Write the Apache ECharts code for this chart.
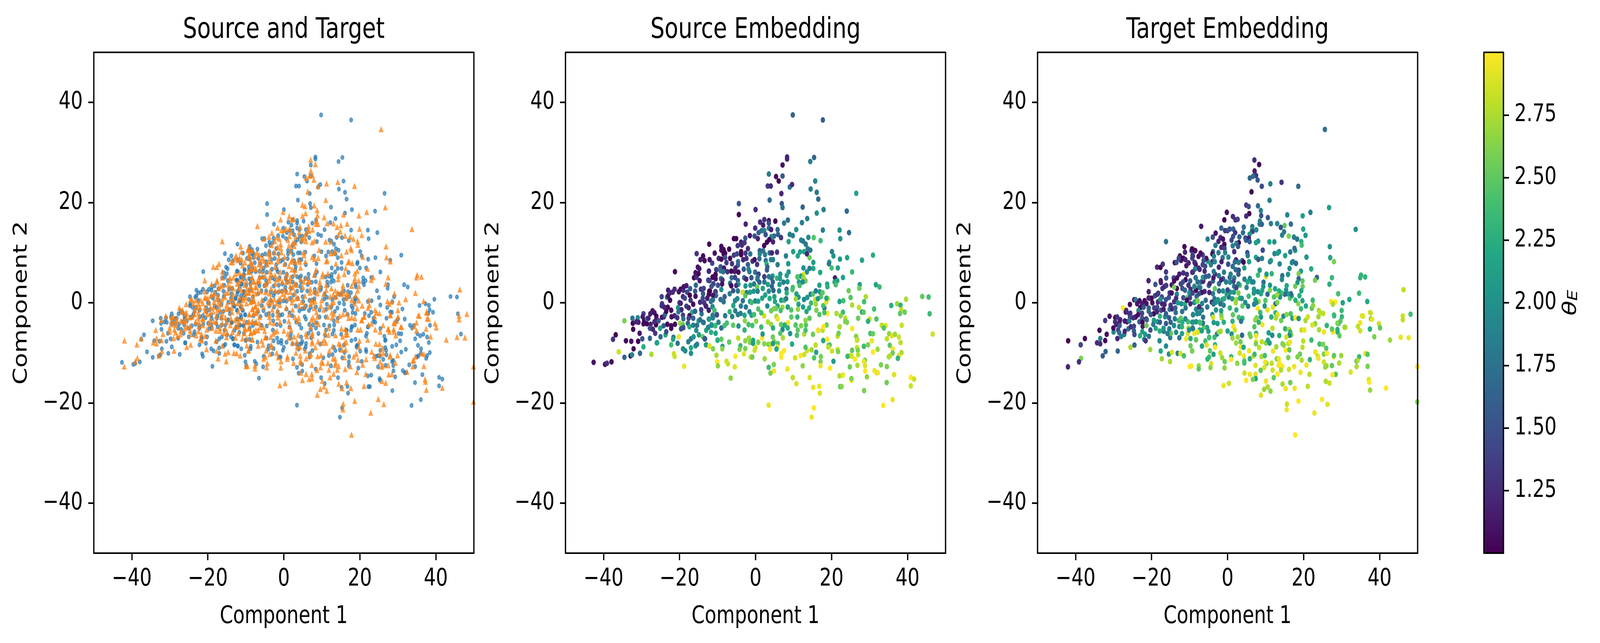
<!DOCTYPE html>
<html>
<head>
<meta charset="utf-8">
<style>html,body{margin:0;padding:0;background:#fff;overflow:hidden}#c{width:5237px;height:1646px;transform-origin:0 0}</style>
<script src="https://cdn.jsdelivr.net/npm/echarts@6/dist/echarts.min.js"></script>
</head>
<body>
<div id="c"></div>
<script>
const panelTitles = ['Source and Target', 'Source Embedding', 'Target Embedding'];
const xName = 'Component 1';
const yName = 'Component 2';
const axisTicks = [-40, -20, 0, 20, 40];
const colorbarTicks = [1.25, 1.5, 1.75, 2, 2.25, 2.5, 2.75];
const viridis = ['#440154','#482475','#414487','#355f8d','#2a788e','#21918c','#22a884','#44bf70','#7ad151','#bddf26','#fde725'];

// [component 1, component 2, theta_E]
const sourcePoints = [
[-42.6,-11.9,1.1],[-39.6,-12.3,1.1],[-39.1,-12.1,1.3],[-37.9,-11.8,1.05],[-36,-9.8,2.85],[-36.8,-6.4,1.02],[-37.5,-7.3,1.3],[-34.5,-3.6,2.6],[-34.5,-10.9,1.65],[-34.1,-7.6,1.02],[-32.7,-7.7,1.1],[-32.1,-9.2,1.05],[-32.9,-10.6,1.1],[-32.5,-10.4,1.9],[-32.2,-5.3,1.02],[-32.3,-4.1,1.05],[-32.4,-3.1,1.75],[-31,-3,1.95],[-31.4,-3.8,1.25],[-30.8,-3.9,1.2],[-30.5,-6.1,1.1],[-30.9,-7.7,1],[-29.8,-7.2,1.5],[-30.4,-10.1,1.65],[-29.5,-8.8,2.25],[-29.5,-2.2,1.4],[-29.7,-2.8,1.15],[-29.3,-3.6,1.02],[-29.5,-4.2,1.05],[-28.6,-4.2,1.02],[-28.6,-3.2,1.8],[-28.2,-3.1,1.2],[-27.7,-2.2,1.15],[-27.1,-1.6,1.15],[-26.6,-2,1.1],[-26.1,-2.7,1],[-26.1,-3.2,1.1],[-27.6,-4.3,1.2],[-27.8,-5.1,1.5],[-27,-5.3,1.2],[-26.4,-6.1,1.3],[-26.2,-4.4,1.02],[-26.6,-3.8,1.25],[-25.5,-3.6,1.55],[-27.8,-7.1,1.65],[-26,-8,2.1],[-25.9,-8,2.15],[-27.4,-10.3,2.75],[-25.1,-5.1,2.15],[-25,-6.8,1.7],[-24.2,-4.6,1.6],[-23.7,-6.4,2.2],[-23.5,-5.8,1.45],[-23.2,-4.3,1.05],[-24.6,-2.9,1.05],[-24.1,-2.8,1.25],[-23.8,-2.3,1.7],[-23.5,-1.7,1.02],[-23.1,-0.9,1.05],[-22.2,-1.5,1.05],[-24,-0.9,1.2],[-24.7,-0.6,1.25],[-24.6,-0.2,1.3],[-24.7,1.2,1.4],[-23.3,1.1,1.8],[-23,1.4,1.1],[-22.5,0.5,1.02],[-23,2.5,1.15],[-22.5,2,1.25],[-21.8,2.1,1.25],[-21.3,2.7,1.25],[-20.2,2.2,1.1],[-19.7,2.7,1.02],[-19,2.5,1.3],[-18.9,3.2,1.1],[-18.2,3.4,1.15],[-18,2.1,1.45],[-17.3,1.5,1],[-17.2,2.8,1.6],[-15.8,1.3,1.05],[-19.1,1.2,1.25],[-18.6,0.9,1.45],[-17.1,0.5,1.3],[-16.4,-0.3,1.05],[-19.7,-0.1,1.1],[-20,0,1.25],[-20.4,-1,2],[-19.5,-1.4,1.2],[-20.3,-1.8,1.8],[-18.2,-0.7,1.4],[-17.6,-1,1.2],[-16.7,-1.9,2.2],[-15.9,-1.7,1.6],[-17.4,-2.6,1.05],[-17.6,-3.1,1.4],[-19.1,-2.5,1.35],[-19,-3.2,1.75],[-21.3,-2.6,1.25],[-22.1,-2.8,1.1],[-20.6,-3,1.3],[-22.2,-4.6,1.05],[-22.2,-5.1,1.02],[-21.2,-4.3,1.05],[-19.9,-4.1,2.7],[-19.1,-4.4,2.5],[-19.6,-5.2,1.45],[-19,-5,1.5],[-17.8,-4.1,1.6],[-17.4,-4.8,2.25],[-16.4,-4.5,1.85],[-16.4,-3.1,1.6],[-15.4,-4.5,1.75],[-15,-3.6,2.2],[-15.6,-5.5,1.95],[-14.2,-2.2,1.75],[-14.3,-1.4,1.35],[-13.8,-3.9,1.8],[-14.6,-3.4,1.7],[-21.6,-6.9,1.85],[-21.7,-7.3,2.15],[-20.2,-6.8,2.95],[-22.2,-8.4,2.4],[-20.5,-8.1,1.75],[-21.5,-10.2,2.85],[-21.3,-10.7,2.85],[-18.8,-12.7,2.95],[-19.1,-9.2,1.95],[-18.5,-9.6,1.95],[-17,-10.1,1.95],[-17,-9,2.2],[-17.7,-7.8,1.85],[-17,-7.2,1.8],[-16.3,-6.8,2.05],[-15.8,-8.6,2],[-15.4,-8.3,1.85],[-14.9,-6.4,2.1],[-13.9,-6.8,2.55],[-13.3,-7.2,1.55],[-13,-8.4,2.15],[-12.1,-8.6,2.95],[-11.2,-9.2,2.6],[-10.3,-10.5,2.75],[-10.1,-11.8,3],[-9.9,-12.6,2.65],[-13,-5.5,2.15],[-12.4,-4.9,1.9],[-11.7,-5.9,2.25],[-11.5,-4.5,2],[-10.6,-4.6,2.35],[-10.5,-6.1,2.15],[-10,-7.5,2.3],[-12.2,-3.3,2.25],[-11.3,-3,2],[-11.3,-2.5,1.85],[-10.8,-1.5,2.45],[-12.3,-1.5,1.25],[-11.3,-0.8,1.95],[-10.2,-2.4,1.55],[-13,-0.7,1.25],[-13.5,0,1.3],[-14.6,0.1,1.25],[-13.9,0.9,1.45],[-12.7,0.9,1.25],[-11.2,0.6,1.75],[-10.5,2.2,1.3],[-12,2.3,1.05],[-13.8,1.8,1.55],[-14.4,2.7,1.35],[-15.9,2.3,1.55],[-15.7,3.5,1.65],[-14.7,4.4,1.1],[-16.2,5,1.05],[-15.5,5.1,1.3],[-15,5.8,1],[-15.8,6,1.1],[-14.8,6.8,1.15],[-15.2,7.1,1.1],[-21.2,6.2,1.05],[-12.3,6.3,1.25],[-12.4,4.5,1.4],[-11.1,3.8,1.6],[-11.3,5.1,1.05],[-10.5,5.6,1],[-10.3,6.6,1.45],[-15.5,9.8,1.3],[-14.5,8.6,1.15],
[8.3,28.7,1.2],[8.3,29.1,1.2],[7.1,27.5,1.1],[14.4,28.2,1.85],[15.4,29,1.65],[3.5,25.7,1.85],[5.4,25.2,1.08],[7.1,25.3,1.55],[6.1,24.3,1],[15.7,24.3,1.9],[3.2,23.3,1.35],[4,23.3,1.25],[9,23.1,1.75],[9.6,23.6,1.25],[14.5,22.7,1.85],[16.1,22.05,1.8],[6.8,21.8,1.2],[16.5,20.7,1.7],[3.7,20.5,1.7],[6.9,19.8,1.55],[7.1,19,1.75],[-4.4,19.8,1.55],[-4.4,17.6,1.02],[0,18.6,1.25],[12.4,19.1,1.65],[17.9,18.6,1.85],[16.1,17.9,2],[-2.6,15.7,1.2],[1.2,16.1,1.25],[2.3,16.6,1.3],[3.5,16.4,1.1],[5.2,16.3,1.02],[3.5,15.9,1.45],[2,15.5,1.15],[-0.1,14.9,1.25],[0.8,14,1.6],[1.6,14.4,1.75],[2.3,14.4,1.9],[3.5,14.9,1.75],[4.1,14.6,1.2],[5.8,14.6,1.65],[7.5,15.9,1.8],[8.5,16.5,1.7],[12.2,16,1.85],[13.6,16.8,1.85],[17.7,14.5,1.85],[22.1,14.5,2],[22.3,12.8,2],[10.7,14.6,2],[9,13.65,1.85],[9.8,13.4,1.85],[8.7,12.2,2.15],[13.9,13.05,1.95],[15.3,13,2.45],[17.1,12.4,2.35],[12,12.5,1.9],[12.5,12.3,1.8],[13.2,11.7,1.8],[-1.5,13.4,1.1],[-0.25,13.3,1.5],[0.6,12.8,1.2],[2.65,13.6,1.5],[4.85,13.3,1.65],[4.2,13.2,1.9],[5.9,13.65,1.65],[6.7,13,1.3],[3.6,12.6,1.02],[3,12.1,1.02],[4.6,12.15,1.2],[2.25,11.4,1.05],[-5.7,12.8,1.02],[-5.1,12.8,1],[-2.7,12.9,1.55],[-12.2,11.7,1.05],[-3.8,12.1,1.2],[-2.9,12,1.35],[-4.7,11.4,1.35],[-3.6,11.5,1.25],[-2,10.8,1.25],[-9,11.25,1.05],[-8.4,10.6,1.05],[-6.95,10.7,1.02],[-9,10.5,1.05],[-10.75,9.9,1.1],[-8,9.9,1.02],[-8.4,9.75,1.02],[-3.8,10.2,1],[-3.8,9.6,1],[-2.65,9.9,1.35],[-1.4,9.75,1.75],[-5.7,9.5,1.35],[-4.9,9.75,1.45],[1.1,10.4,1.6],[2,10.35,1.75],[2.5,9.6,1.85],[1.1,9.75,1.9],[1,8.8,1.7],[3.7,9.95,1.75],[4.3,9.95,1.2],[5.65,10.1,1.3],[8,9.35,1.85],[4.05,8.6,1.85],[4.6,8.6,1.85],[2.7,8.4,1.7],[5.8,7.6,1.85],[2.9,7.8,2.3],[3.1,7.15,1.65],[3,6.55,1.55],[8.6,7.8,2.05],[9.9,10.2,2.1],[11.7,10.15,2.1],[11.1,9.35,2.15],[12.75,10.2,2.15],[13.7,10.8,1.85],[14.4,10.5,1.75],[13.55,9.75,1.2],[14.2,9,2.55],[15.2,8.05,2.1],[20.1,10.2,1.85],[20.5,9.35,2.05],[22.2,8.7,2.05],[19.4,8.1,2.1],[19.3,7.8,1.8],[20,6.95,2.4],[21.65,6.95,2.15],[12.6,6.95,2],[14.2,6.85,1.85],[15.2,6.85,2.2],[13.5,6.15,2],[17,6.05,2.2],[8.7,6.15,2.05],[8.2,5.45,2.1],[6.5,5.7,2.05],[4.5,5.35,2.2],[5.65,4.9,2.3],[6.45,4.8,2.1],[8.4,4.2,2.05],[7.35,4.1,1.85],[12.6,5.65,2.9],[11.9,5.3,2.1],[11,5.15,2.45],[13.15,4.35,2.55],[12.6,5,2.7],[11.4,4.15,2.15],[12.4,4.15,1.95],[11.6,3.45,2.4],[20.9,4.95,1.15],[21.5,4.4,2.15],[20.8,4.15,2.2],[21.1,3.6,2.4],[16.8,3.5,2.15],[18.85,3.7,2.15],[18.9,3.2,2.25],
[-11.4,7.9,1.4],[-12.1,8.6,1.1],[-13.4,8.4,1.02],[-13.8,9.35,1.05],[-9.7,8.85,1.25],[-9,8.7,1.02],[-8,9,1.5],[-6.7,8.85,1.02],[-7.65,8,1.35],[-6.2,7.8,1.3],[-4.6,8.2,1.75],[-4.65,7.5,1.6],[-3.25,8.6,1.2],[-2.4,8.85,1.3],[-0.8,8.3,1.3],[-0.25,8.6,1.05],[0.4,7.65,1.3],[-2,7.6,1.6],[-3.1,6.7,1.55],[-5.3,6.9,1.2],[-5.5,6.25,1.15],[-4.5,6.1,1.02],[-6.4,6.3,1],[-7.4,6.2,1.3],[-12.25,6.3,1.2],[-10.35,6.6,1.35],[-9.2,7.15,1.55],[-8.3,6.9,1.1],[-9.2,6.4,1.75],[-8.5,6.2,1.75],[-10.55,5.65,1],[-11.3,5.1,1.05],[-10.5,4.8,1.05],[-12.45,4.5,1.4],[-12.1,4.4,1.4],[-9.1,4.8,1.75],[-8.7,4.55,1.3],[-8.8,3.75,1.1],[-11.1,3.75,1.4],[-9.9,3.5,1.5],[-11.6,3.25,1.5],[-6.3,5,1.7],[-5.4,5.05,1.4],[-4.65,4.4,1.6],[-6.7,3.9,1.75],[-4.5,3.7,2.1],[-6.4,3.4,1.05],[-5.1,3.45,1.3],[-3,5,1.7],[-2.45,4.7,1.2],[-1.1,5,1.5],[-1.85,6.7,1.9],[-1.6,6.2,1.85],[-0.1,6.1,1.75],[0.8,5.7,1.35],[0.55,5.1,1.75],[2.3,5.2,1.35],[3.5,5.2,1.85],[4.2,4.95,1.75],[0.5,4.7,1.75],[1,4.1,1.65],[2.3,4.15,1.75],[3.25,3.65,2.15],[4.55,4.15,1.6],[4.3,3.25,1.65],[-2.65,3.35,2.05],[-1.35,3.5,2.05],[-0.4,3.75,1.85],[0.4,3.1,2.55],[6.3,3.65,2.05],[8.15,2.7,1.7],[9.7,2.6,2.5],[9.8,3.05,2.4],[4.7,2.45,1.6],[3.5,2.3,1.95],[1.9,2.85,2.15],[0.55,2.3,1.85],[-0.5,2.3,2.05],[-1.45,2.1,2.15],[-2.4,2,1.85],[-3.4,2.1,2.85],[-2.7,1.4,2.45],[-4.65,2.35,1.8],[-5.9,2.4,1.5],[-6.8,1.8,1.85],[-9,2.65,1.95],[-10.6,2.2,1.35],[-12.2,2.3,1.02],[-12.3,1.65,1.05],[-13.65,2.85,1.4],[-10.4,1.45,1.7],[-11.2,1.45,1.1],[-12.7,0.9,1.15],[-8.15,1.2,1.6],[-11.4,0.5,1.75],[-11.75,0.25,1.75],[-9.2,0.65,1.7],[-8.4,0.2,1.75],[-13.1,-0.65,1.2],[-12.3,-1.5,1.15],[-11.35,-0.8,1.95],[-10.85,-1.5,2.4],[-10.15,-2.4,1.45],[-11.2,-3,1.85],[-12.3,-3.25,2.05],[-13.65,-3.95,1.75],[-11.6,-4.4,2],[-10.55,-4.55,2.35],[-12.5,-4.95,1.9],[-9.75,-3.9,1.9],[-9,-5.05,1.75],[-8.15,-4.55,2.4],[-7.55,-4.05,2.4],[-8,-2.6,1.8],[-5.35,-1.6,1.85],[-6.8,-1.8,2.3],[-6.15,-2.75,1.85],[-4.65,-2.35,1.85],[-3.95,-2.15,1.85],[-2.9,-2.5,2.2],[-1.05,-2.5,2.15],[-1.6,-1.8,1.9],[-0.4,-2.35,2.4],[-5.85,-0.55,2.15],[-3.85,-0.65,1.85],[-2.55,-0.85,1.75],[-4.8,0.8,1.95],[-3.35,0.4,1.75],[-5.4,0.4,1.9],[-1.45,0.25,2.05],[-1.05,0.05,2.4],[-0.1,0.35,1.95],[0.7,0.3,2.15],[1.75,0.9,2.15],[2.55,1.55,2.15],[3.7,0.85,2.2],[4.95,1.2,2.15],[6.75,0.5,2.05],[7.5,0.5,2.35],[8.05,0.8,1.85],[8.2,1.95,2.25],[6.2,2.35,1.95],[3.1,-0.65,1.95],[5.1,0.25,2.2],[5.8,-0.65,2.15],[7.1,-0.9,2.7],[5.4,-1.15,2.55],[6.6,-1.55,2.4],[8.45,-0.85,2.1],[9.4,-1.45,2.45],[11.15,-1.3,2.65],[11.3,-0.3,2.15],[12.75,0.65,1.95],[13.6,1.05,2.05],[10.75,1.75,2.15],[11.3,1.1,2.05],[10.6,0.75,2.7],[14.5,1.7,1.85],[15.1,1.75,2.45],[15.85,2.35,1.85],[16.9,2.2,2.1],[17.65,2,2.5],[17.2,1.2,2.45],[15.7,0.65,2.8],[16.4,0.8,2.05],[15.85,-0.25,2.7],[14.6,-0.05,2.35],[14.1,-1.05,2.25],[13.4,-1.75,2.2],[12.5,-0.85,2.1],[16,-1.5,2.6],[16.8,-2.35,2.45],[18.1,-1.05,1.75],[17.8,-0.6,2.4],[18.6,0.1,2.9],[19.05,0.8,2.85],[18.65,0.9,2.2],[18.85,-2.15,3],[18.1,-1.95,2.4],[21.3,-2.15,2.75],[22.1,0.25,2.15],[8.55,-4,2.95],[2.25,-2.6,2.85],[0.7,-1.25,2.45],[4.1,-1.6,2.55],[4.85,-1.2,2.6],[1.5,-2,2.4],[0.15,-3.7,2.65],[-2.8,-3.6,2.65],[-1.85,-4.35,2.4],[-0.85,-4.55,2.4],[1.5,-4.85,2.35],[3.25,-3.85,2.75],[4.1,-4.3,2.7],[4.6,-5.05,2.25],[5.5,-2.75,2.75],[5.8,-3.25,2.95],[6.7,-4.35,2.5],[7.65,-4.45,2.25],[7.1,-5.35,1.95],[8.45,-5.05,2.25],[9.4,-2.85,2.5],[11,-2.85,2.3],[14.2,-3.1,2.5],[10.55,-4.45,2.45],[12,-4.6,2.6],[13.25,-4.45,2.45],[13.15,-3.55,2.65],[17.85,-4.8,2.95],[18.7,-4.45,2.55],[16.5,-5.45,3],[22.15,-4.8,2.75],[-2.9,-5.45,2.3],[-4.5,-4.65,2],[-5.9,-4.5,2.5],
[-13.4,-7.2,1.55],[-13.05,-8.4,2.1],[-12.15,-8.65,2.9],[-10,-7.45,2.25],[-9,-7.3,2.5],[-8.7,-8.7,2.15],[-8.75,-9.2,2.65],[-6.95,-7.85,2.5],[-7.65,-11.7,2.85],[-7.25,-12.2,2.85],[-5.3,-10.7,3],[-5.45,-12.8,2.9],[-6.55,-15.05,2.65],[-4.55,-7.05,2.8],[-4,-8.6,2.35],[-4.2,-9.3,2.6],[-2.7,-7.6,2.65],[-2.7,-9.15,2.6],[-3.05,-10.2,2.9],[-1.3,-10.85,2.85],[-0.85,-10.85,2.55],[-1.75,-7.05,2.7],[-1.45,-7.9,2.6],[-0.65,-7.5,2.2],[-0.65,-8.1,2.1],[0.7,-7.9,2.6],[0,-8.9,2.85],[-0.25,-9.5,2.85],[1.75,-7.05,3],[1.85,-6.25,2.05],[2.3,-8.2,2.65],[2.4,-11.2,2.7],[3.45,-12.9,2.35],[4.8,-12.35,2.6],[4.85,-13.65,2.95],[3.9,-14.05,2.6],[3.45,-20.45,2.95],[3.4,-8.3,2.6],[4,-8.3,2.75],[3.85,-9.25,3],[4.55,-6.85,2.55],[4.85,-7.75,2.6],[5.85,-8.15,2.5],[4.6,-8.15,2.05],[5.75,-8.85,2.95],[5.5,-9.25,2.2],[6.5,-6.1,2.45],[7.2,-7,2.75],[7.5,-9.55,3],[6.8,-10.15,3],[6.75,-10.85,3],[8.4,-13.25,2.95],[9.8,-14.95,2.8],[10.75,-16.15,2.9],[9.1,-6.15,2],[9.6,-8.25,2.2],[10.9,-6.5,2.4],[11.1,-5.45,2.5],[12.8,-6.25,2.75],[13.15,-5.5,2.4],[10.4,-11,2.85],[11.85,-10.55,3],[12.8,-10.35,2.85],[12.4,-12.6,2.65],[13.55,-9.55,2.85],[13.15,-8.9,2.45],[14.75,-9.4,2.7],[15.8,-8.45,2.8],[15.1,-6.3,2.55],[16.5,-5.55,2.95],[17.65,-5.5,2.8],[17.9,-4.8,3],[15.95,-9.9,2.15],[15.4,-11,2.45],[17.2,-10.75,2.6],[17.1,-11.8,2.6],[17.1,-12.6,2.95],[19.6,-13.05,3],[14.25,-14.95,2.9],[15.2,-16.9,2.95],[16.75,-16.7,2.95],[16.9,-18.05,2.9],[15.35,-21,3],[14.75,-22.85,2.95],[17.8,-7.55,2.2],[18.85,-7.3,3],[19.2,-8.55,2.45],[19.5,-8.45,2.45],[19.15,-8.85,2.8],[20.1,-9.65,2.85],[21.6,-9.35,2.85],[21.7,-9.75,2.6],[20.5,-11.7,2.1],[21.6,-6.65,2.8],[21.85,-6.1,2.55],[22.1,-4.8,2.75],[22.1,-14.6,2.75],[22.25,-16.75,2.5],
[24.1,9,2.15],[28,8.5,2.15],[30.9,9.5,2.25],[25.4,6.15,2.35],[23,5.05,2.15],[24.5,2.4,2.55],[25,1.05,2.45],[27.4,3.6,2.1],[27.3,2.9,2.55],[29,1.2,2.75],[31.65,3.6,2.15],[32.6,3.15,2.35],[28.55,0.2,2.4],[23.1,0.4,2.4],[25.4,-0.45,2.75],[27.2,-0.95,2.8],[28,-1.85,2.2],[28.45,-1.9,2.5],[31.2,-1.25,2.4],[35.7,-0.55,2.25],[37.25,-0.2,2.7],[38.15,-0.5,2.3],[39.6,0.7,2.75],[43.85,1.25,2.5],[45.55,1.15,2.4],[45.8,-2.2,2.35],[38.35,-1.4,2.8],[38,-2.15,2.5],[39.25,-1.9,2.55],[23,-1.9,2.35],[23.6,-3.1,2.8],[22.4,-2.6,2.65],[24.05,-3.9,2.6],[23.6,-3.75,2.6],[27,-3.1,2.55],[30,-3.25,2.85],[29.6,-3.7,2.25],[31.8,-3.25,2.45],[33.2,-4.5,2.8],[34.2,-4.55,2.9],[33.75,-5.05,2.45],[38.45,-4.5,2.85],[46.6,-6.25,2.85],[25.4,-5.15,3],[26.45,-6.7,2.65],[26.75,-7.45,2.45],[26.65,-7.5,2.85],[30.2,-6.15,2.4],[30.9,-6.2,2.55],[30.6,-7.6,2.95],[29.6,-8.4,2.6],[28.5,-8.7,2.35],[26.7,-8.95,2.85],[26.9,-9.5,2.6],[25.4,-9.5,2.5],[27,-10.4,2.8],[24.8,-10.55,2.85],[25.3,-10.65,2.85],[24.2,-10.7,2.35],[26.15,-11.3,3],[28.75,-11.5,2.55],[28.5,-11.75,2.95],[28.8,-12.55,2.9],[26.8,-12.5,2.75],[24.8,-12.8,2.55],[28.85,-13.6,3],[29.3,-14.8,2.65],[31.3,-13.55,2.95],[31.85,-14,2.95],[32.15,-13.95,2.95],[30.9,-9.85,3],[32.1,-9.3,2.7],[33,-12.4,2.6],[34.55,-12.75,2.6],[36.45,-14.35,2.9],[34.5,-15.95,2.55],[28.55,-17.55,2.6],[22.65,-16.75,2.65],[23,-14.45,2.95],[25.3,-15.5,3],[25.2,-15.15,2.6],[35.15,-6.2,2.65],[35.9,-6.6,2.9],[36.7,-6.3,2.7],[37.7,-6.85,2.85],[34.55,-7.2,2.8],[38.15,-7.95,2.8],[35.3,-8.5,2.5],[36.1,-9.2,3],[36.05,-10.05,2.55],[38.4,-9.95,2.75],[37.7,-10.55,2.9],[37.45,-11.1,2.3],[35.4,-10.6,2.8],[35.05,-10.8,2.75],[36.05,-19.35,2.95],[33.6,-20.5,3],[40.85,-14.9,3],[41.7,-15.25,2.85],[40.85,-16.6,2.85],
[26.5,21.85,2.15],[24,18.3,1.7],[24.6,14,1.7],[9.8,37.5,1.65],[17.7,36.5,1.6]
];

const targetPoints = [
[-42,-12.8,1.2],[-41.95,-7.6,1.02],[-38.55,-11.1,2.6],[-39.1,-11.8,1.25],[-38.65,-8.4,1.4],[-37.55,-7.15,1.05],[-34.35,-8,1.25],[-33.5,-7.15,1.85],[-33.5,-8.2,1.25],[-32.2,-7.55,1.02],[-33.7,-5.5,1.02],[-31.8,-6.3,1.08],[-32.85,-10.6,1.55],[-32.1,-9.75,1.65],[-28.9,-9.65,1.65],[-29,-7.15,1.2],[-32.2,-3.55,1.35],[-31.05,-2.7,1.08],[-30,-5.85,1.9],[-30.05,-5.05,1.05],[-29.55,-2.95,1.02],[-29.05,-2.85,1.3],[-29.6,-3.8,1.3],[-29.3,-4.35,1.2],[-28.25,-3.4,1.2],[-28.4,-3.8,1.15],[-28.4,-4.55,1.55],[-28.8,-5.45,1.4],[-28.5,-6,1.7],[-28,-6.75,1.85],[-27.2,-6.35,1.85],[-27.05,-5.7,1.2],[-27.05,-3.65,1.15],[-26.45,-3.8,1.15],[-27.5,-1.05,3],[-26.8,-1.85,1.1],[-26.65,-1.55,1.25],[-25.85,-2.2,1.3],[-25.6,-2.1,1.3],[-25.7,-2.95,1.4],[-25.85,-3.65,1.85],[-26.1,-5.2,1.7],[-25.45,-4.8,1.25],[-24.65,-4.7,1.4],[-24.65,-5.6,1.6],[-24.5,-6.35,1.45],[-25.7,-0.35,1.05],[-24.55,0.6,1.02],[-24.2,0.6,1.85],[-23.8,-0.2,1.15],[-23.15,0.4,1.1],[-21.85,0.4,1.02],[-22.5,-0.25,1.15],[-21.35,-0.15,1.1],[-23,-1,1.02],[-23.45,-1.55,1.9],[-22.1,-0.9,1.55],[-22.5,-2.1,1.4],[-23.55,-2.4,1.1],[-24.2,-2.85,1.02],[-24.8,-3,1.25],[-22.5,-3.05,1.5],[-23.2,-3.8,1.6],[-22.4,-3.9,1.02],[-22.35,-4.7,1.15],[-21.35,-4.55,2.55],[-21.4,-3.25,1.1],[-21.25,-3.4,1.6],[-22.45,-5.75,2.1],[-23.05,-6.6,2.25],[-21.7,-6.3,2.05],[-20.7,-6.7,1.75],[-21.95,-7.3,1.95],[-21.55,-7.6,1.3],[-24.5,-8.45,1.65],[-25.55,-8.9,2.75],[-20.35,-9.35,2.7],[-20.3,-5.45,1.5],[-18.9,-5.1,2.2],[-17.85,-5.65,2.25],[-17.9,-7.6,1.95],[-16.2,-8.65,1.95],[-17.6,-9.65,2.2],[-17.3,-11.2,2.7],[-15.45,-10.25,2],[-14.65,-9.9,2.9],[-15.15,-11.75,2.75],[-13.15,-10.1,1.9],[-12.4,-10.15,2.9],[-11.5,-10.6,2.4],[-9.95,-12.75,3],[-9.6,-12.65,3],[-7.6,-12.6,2.7],[-7.6,-13.2,2.5],[-9.35,-9.65,2.6],[-9.75,-8.6,2.55],[-10.9,-7.2,2.95],[-9.75,-7.15,2.25],[-8.3,-7.4,2.6],[-10.45,-6.15,2.9],[-8.75,-6.1,2.9],[-7.9,-5.9,2.85],[-15.1,-6.95,1.85],[-14.9,-6.1,2.5],[-15.8,-6.15,1.85],[-16.8,-5.7,1.85],[-16.85,-5.1,2.05],[-15.35,-5.2,1.85],[-14.1,-4.55,1.95],[-13.55,-5.9,1.95],[-12.7,-7,1.8],[-12,-6.15,2.15],[-12.7,-4.75,1.95],[-12,-4.8,2.3],[-12.85,-3.55,2.35],[-12.3,-3.1,2.5],[-11.9,-3.9,2.25],[-10.4,-3.8,2.4],[-10.3,-5.05,2.75],[-10.15,-5.45,2],[-9.2,-5.05,1.95],[-9.3,-3.9,2.1],[-8.3,-3.8,2.1],[-7.35,-3.9,2.35],[-7.35,-5.45,2.2],[-11.1,-3.2,1.95],[-13.9,-3.2,1.85],[-15,-3.9,1.65],[-16.2,-4.15,1.55],[-15.4,-3,1.55],[-16.45,-2.8,1.95],[-17.8,-2.7,2.25],[-18.45,-3.8,2.05],[-17.8,-3.9,1.6],[-19.4,-3.5,2.1],[-19.55,-4.3,1.8],[-19.4,-2.2,1.02],[-20.2,-2.35,1.5],[-20.75,-1.05,1.6],[-20.75,-1.7,1.65],[-19.3,-1.05,1.35],[-18.5,-0.9,1.45],[-18.6,-1.8,1.2],[-17.5,-1.5,1.5],[-16.85,-1.3,1.15],[-16.2,-2.2,1.6],[-15.25,-1.3,1.75],[-14.6,-1.2,1.2],[-13.65,-1.95,1.7],[-13.75,-1.05,1.6],[-15,-0.5,1.3],[-16.6,-0.35,1.2],[-17.25,-0.2,1.2],[-18.35,0.15,1.25],[-19.8,0,1.1],[-20.5,0.9,1.02],[-20,0.9,1.02],[-20.8,0.95,1.2],[-17.3,1.15,1.5],[-17.7,0.65,1.95],[-19.1,1.4,1.45],[-18.45,1.7,1.2],[-18.25,1.9,1.35],[-20.75,2.2,1.2],[-16.25,0.6,1.5],[-15.45,1.05,1.5],[-15.25,1.95,1.35],[-14.7,1.95,1.08],[-13.35,1.7,1.85],[-14.05,0.2,1.3],[-13.55,0.9,1.25],[-13.1,0,2.05],[-12.15,-0.2,1.95],[-11.2,-0.25,2.25],[-11.05,-1.05,1.75],[-11.95,-1.75,1.75],[-19,3.65,1.55],[-20.8,4.4,1.2],[-17.6,4.4,1.2],[-17.55,4.05,1.15],[-17.15,2.85,1.3],[-16.6,3.25,1.2],[-16.15,3.45,1.35],[-14.7,3.55,1.15],[-13.35,2.85,1.02],[-14.05,3.1,2.6],[-16.15,4.95,1.5],[-16.2,6.15,1.35],[-14.2,4.95,1.45],[-13.3,4.95,1.05],[-14.05,4.35,1.05],[-12.7,5.7,1.15],[-11.65,5.95,1.25],[-10.7,5.65,1.3],[-9.3,6.1,1.25],[-18.55,7.1,1.25],[-17.65,7.05,1],[-17.05,7.7,1.3],[-13.9,8,1.02],[-13.45,8.05,1.5],[-12.25,8.45,1.15],[-12.55,9.35,1.08],[-11.65,8.9,1],[-12.85,8.9,1.4],[-11.1,8.6,1.2],[-10.25,7.95,1.2],[-10.85,7.4,1.15],[-11.35,11.2,1.05],[-11.2,10.1,1.2],[-9.5,10.4,1.35],[-9.35,10.75,1.05],[-8.5,10.4,1.05],[-9.2,9.5,1.5],[-9.3,8.9,1.45],[-16.2,12.2,1.75],[-7.65,9.25,1.05],[-8.55,7.95,1.25],[-8.4,7.65,1.1],[-8.55,6.75,1.75],[-7.6,6.9,1.2],[-11.05,4.6,1.05],[-9.85,4.35,1.6],[-11.75,4.15,1.5],[-12.3,3.75,1.4],[-11.9,2.85,1.5],[-11.2,2.5,1.65],[-10.3,3.5,1.3],[-9.75,2.7,1.3],[-8.75,3.25,1.85],[-8.4,5,1.7],[-7.9,4.15,1.85],[-9.35,1.95,1.2],[-10.05,1.95,1.95],[-8.35,2.5,1.02],[-7.5,3.1,1.7],[-8.15,1.3,1.65],[-11.65,1,1.5],[-10.65,1,2.5],[-9.9,1,1.4],[-10.7,0.5,1.05],[-8.75,0.05,1.85],[-9.8,-0.2,1.25],[-8.4,0.25,2.2],[-7.9,0.4,2.6],[-7.45,-0.8,1.35],[-8.2,-1.35,2.05],[-9.1,-2.35,1.95],[-7.35,-2.1,2.15],
[7.05,28.5,1.25],[8.3,27.6,1.02],[7.1,26.3,1.15],[7.5,25.4,1.3],[6.7,25.25,1.7],[5.85,24.9,1.65],[7.9,24.5,1.55],[9,23.25,1.45],[11.25,23.75,1.85],[14.2,24.05,1.3],[18.6,23.25,1.7],[6.3,22.15,1.02],[11.05,20.45,1.85],[4.9,19.5,1.35],[5.55,19.2,1.45],[8,19.35,1.7],[8.75,18.4,1.85],[15.7,17.55,1.9],[21.8,18.05,1.85],[19.75,17.35,2.1],[-0.2,18.05,1.08],[1.4,17.2,1.25],[-0.85,16.55,1.02],[2.1,16.55,1.25],[2.65,16.65,1.4],[5.7,17.8,1],[4.9,17.3,1.25],[8.85,17.4,1.5],[10.6,17,1.55],[8.5,16.3,1.85],[8.45,15.7,1.85],[9,15.65,1.65],[11.4,15.8,1.85],[13.05,15.8,1.9],[15,15.4,2.5],[16.65,15.7,1.7],[14,15.05,1.5],[14.85,14.15,1.8],[14.35,13.5,1.85],[19.9,14.7,2.2],[20.5,13.45,2.05],[16.1,13.3,2.6],[17.45,13.1,1.85],[18.3,12.7,1.75],[19.4,12.2,2.25],[19.5,11.5,2.4],[-6.95,15.25,1.15],[-5.25,12.7,1.85],[-3.9,13.1,1.45],[-3.15,13.9,1.1],[-1.65,14.9,1.65],[-0.65,14.4,1.3],[0,14.4,1.45],[0.55,14.7,1.55],[1.5,14.7,1.65],[2,14,1.3],[1.45,13.25,1.5],[3.1,13.15,1.65],[1.05,12.5,1.45],[4.05,14,1.7],[4.25,15.1,1.75],[6.5,15.2,1.75],[6.4,14.5,2.25],[6.6,14.25,1.4],[5.8,13.7,2.05],[7.55,14.55,1.95],[4.7,12.9,1.4],[4.85,12.5,1.6],[5.6,12.9,1.2],[5.8,12.2,1.6],[8.05,12.3,2],[7.45,12,2.15],[11,12.15,2.15],[12.3,12.15,2],[-1.85,13,1.2],[-1.2,12.7,1.1],[-2.4,12.25,1.2],[2.95,12,1],[2.3,11.85,1.85],[2.75,11.25,1.55],[1.35,11.35,1.85],[-0.85,11.65,1.05],[-3.2,11.45,1.85],[-1.65,11.05,1.25],[-0.8,10.85,1.4],[1.75,10.2,1.25],[-2.4,10,1.85],[-0.65,10,1.85],[9.25,10.5,1.45],[5.2,10,1.45],[5.3,9.4,1.8],[-3.85,10.2,1.65],[-4,9.75,1.05],[-3.6,9.3,1.85],[-1.3,9,1.75],[0.2,9.1,1.95],[12.35,9.8,1.9],[13.55,10.2,1.95],[13.15,9.9,2.1],[15.15,9.4,2.1],[16.5,10.15,1.8],[17.8,10.45,2.1],[17.6,10.85,1.7],[20.75,9.1,2.05],[7.45,9.05,2.15],[8.1,8.65,1.55],[9.05,8.85,1.85],[5.65,8.2,2.15],[3.85,8.4,1.6],[4.2,8.1,1.02],[2.2,8.55,1.15],[11.15,8.2,1.75],[11.4,8.4,2.05],[13.7,7.75,1.9],[16.9,8,2.05],[17.2,8.2,1.85],[18,7.85,1.7],[16.3,6.85,1.95],[22,6.75,2.2],[19.3,6.3,2.05],[8.45,6.5,2.05],[8,5.5,2.35],[10.1,5.2,2.9],[10.25,5.7,2.05],[11.6,5.8,2.3],[14.4,5.4,1.75],[14.3,4.65,1.95],[15.9,5.65,2],[18.7,5.8,2.6],[18.7,4.8,1.65],[18.4,4.05,2.05],[19.7,4.35,2.5],[17.8,3.3,2.55],[19.75,3.25,2.55],[19.4,2.4,2.2],[18.9,1.4,2.25],[19.7,0.4,2.15],[20.6,-0.65,2.2],[22.4,0.5,2.35],[19.3,-1.2,2.35],[22.15,-1.1,2.5],[22.5,-0.55,2.65],[18.6,-0.2,2.65],[17.85,0.5,2.25],[16.4,0.9,2.45],[16.9,1.4,2.15],[16.65,1.8,1.7],[15.75,1.8,2.1],[15.4,2.6,2],[15.55,3.4,2.2],[15.05,1.7,1.7],[14.2,1.95,2.4],[13.55,2.35,2.25],[13.8,1.15,2],[13,1.55,2.7],[12.2,1.15,2.45],[12.6,-0.2,1.7],[13.1,0.05,2.6],[12.5,2.8,2.2],[11.15,2.5,2.6],[11.15,3.5,2.05],[10.5,1.7,1.7],[9.45,4.1,1.75],[9.4,3.25,2],[9.1,2.45,2.15],[8.8,1.8,2.2],[7.95,2.2,1.95],[6.95,2.7,2.05],[6.9,1.95,2.05],[5.55,1.3,2.35],[4.45,4.7,1.85],[5.85,4.85,1.95],[5.25,4.15,2.2],[6.4,4.15,1.95],[6.8,4.15,1.9],[5,3.05,1.9],[9.95,0.45,2.45],[7.35,0.6,2.2],[8.2,0.25,2.7],[7,-0.3,1.85],[7.6,0.05,2],[9.75,-0.65,2.05],[11.9,-0.9,2.9],[10.5,-1.45,2.9],[7.95,-1.15,3],[8.6,-1.95,2.35],[8.8,-2.85,2.05],[12.6,-2,2.3],[13.15,-2.35,2.9],[12.7,-3.05,2.75],[14.7,-2.7,1.95],[15.55,-2.35,2.65],[16.6,-2.2,2.45],[17.05,-3.1,2.15],[17.85,-3,3],[18.7,-3.15,2],[21.1,-2.85,2.85],[20.5,-3.55,2.7],[14.1,-3.55,2.55],[11.5,-2.85,2.25],[9.15,-4.35,2.95],[7.65,-3,2.6],[7.25,-3.45,2.65],[8.2,-3.9,2.3],[7.05,-4.8,2.45],[2.95,-2.95,2.4],[3.9,-3.1,2.3],[3.55,-3.7,1.8],[1.3,-3.7,2.3],[1.55,-4.75,3],[1.9,-5.45,2.85],[0,-5.65,2.15],[1.05,-6.25,2],[2.3,-1.45,2.25],[0.6,-1.05,2.3],[1.4,-2.4,2.5],[-1.55,-3,2.75],[-1.65,-2.35,2.6],[-1.7,-1.6,2.1],[-1,-3.9,2.25],[-3.05,-1.45,2],[-4,-2.35,2],[-3.8,-2.9,2.85],[-3.65,-3.95,2.1],[-2.65,-4.15,2.1],[-2.8,-6.25,1.85],[-1.8,-5.7,2.75],[-3.45,-6.9,2.35],[-4.85,-6.9,2.35],[-5.05,-5.7,2.1],[-5.4,-4.95,2.15],[-6.3,-4.95,2.5],[-6.5,-4.05,1.75],[-6.45,-2.9,1.75],[-7.35,-2.05,1.95],[-8,-2.2,1.95],[-9.1,-2.4,1.9],[-8.3,-3.8,2.05],[-7.2,-4.05,2.4],[-9.1,-3.9,2.05],[-9.1,-5.2,1.8],[-6.8,-5.6,2.1],[-7.9,-5.85,2.9],[-8.7,-6.1,2.95],[-8.3,-7.4,2.5],[-5.85,-7.65,2.4],[-8.3,-1.3,1.9],[-6.75,-1.45,1.9],[-5.35,-0.85,1.75],[-7.5,-0.85,1.25],[-7.9,0.3,2.6],[-6.7,-0.15,1.9],[-5.75,0.5,1.7],[-4.15,0.1,1.3],[-3.45,0.8,1.75],[-3.05,0.1,2.05],[-3.7,-0.25,1.85],[-1.9,-0.2,1.7],[-2.5,0.6,2.05],[-1.05,-0.5,1.9],[-1.3,0.65,2.05],[-0.9,0.8,2.25],[0.3,1.15,1.65],[1.2,0.8,2.1],[2.3,0.65,2.7],[2.15,0,2.7],[3.25,0.9,2.25],[3.75,0.85,2.05],[4.65,0.05,1.95],[5.4,-0.7,1.85],[3.9,-0.65,2.5],[2.85,1.95,2.6],[3.25,3.5,2.45],[1.65,2.1,2.05],[0.7,2.1,2.05],[-0.25,1.7,2.15],[-1.2,2.35,2],[-2.25,2.35,1.7],[-3.35,2.8,2.5],[-3.85,1.8,1.85],[-4.8,2.05,1.2],[-6.05,2.25,1.25],[-6.8,2.05,1.1],[-8.35,2.5,1.02],[-7.5,1.8,1.45],[-9.2,1.95,1.4],[-4.95,3.45,1.7],[-7.2,3,1.8],[-8.7,3.2,1.9],[-4.7,3.8,1.25],[-3.85,4.35,1.65],[-7.9,4.15,1.75],[-6.95,4.15,1.7],[-6.4,4.3,1.25],[-8.4,5,1.75],[-6.5,5.05,2.05],[-5.75,5.2,1.6],[-4.95,5.35,1.6],[-3.7,5,1.15],[-3.3,5.7,1.3],[-3.65,6.25,1.8],[-2.3,5.4,1.75],[-2.25,3.8,1.65],[-1.2,4.8,1.5],[-1.7,4.55,1.25],[-0.4,4.15,1.85],[0.65,4.1,1.95],[0.55,5.05,1.7],[0.8,5.7,1.85],[1.75,4.95,1.85],[1.7,3.3,1.8],[1.55,4.3,1.45],[2.85,3.75,1.95],[2.3,3,1.4],[0,2.55,1.45],[-0.95,6.1,1.85],[-2.3,7.1,1.25],[-4,8.2,1.3],[-3.35,8.2,1.95],[-4.4,7.6,1.85],[-1.6,8.2,1.2],[0.15,7.7,1.45],[1.9,8.15,1.7],[2.9,8.05,1.85],[1.35,7.25,1.7],[2.15,6.6,1.7],[2.95,6.5,1.5],[2.85,5.7,1.55],[4.4,6.95,2.1],[-5.2,8.3,2.05],[-5.6,8.85,1.1],[-6.55,9.55,1.35],[-7.1,9.9,1.08],[-8.5,10.4,1.08],[-9.2,10.65,1.05],[-9.1,9.35,1.35],[-8.7,8.05,1.25],[-6.3,8.45,1.5],[-6.55,7.6,1.4],[-5.9,7.3,1.45],[-7.35,6.65,1.25],[-6.05,6.3,1.25],[-8.55,6.75,1.85],[-9.15,6.1,1.3],
[23.9,-2.8,2.7],[25.15,-2.15,2.8],[28.05,-2.6,2.25],[30.05,-2.8,2.3],[35.65,-2.7,2.9],[37.65,-2.05,2.85],[46.1,-2.65,2.85],[46.1,-3.4,2.8],[48.15,-2.3,2.4],[37.7,-3.2,2.6],[38.05,-3.3,2.95],[29.7,-3.65,2.5],[29.2,-4.15,2.35],[23.05,-4.2,2.65],[22.3,-4.45,2.9],[20.5,-3.55,2.75],[21.1,-2.85,2.85],[26.1,-4.55,2.3],[34.9,-4,2.95],[34.3,-4.75,2.8],[39.8,-4.2,2.85],[31,-4.9,2.8],[24.05,-5.4,2.75],[25.35,-5.85,2.95],[27.5,-5.35,2.4],[28.9,-5.35,2.25],[28.95,-5.85,2.25],[27.75,-5.85,2.95],[29.45,-6.6,2.5],[34.9,-5.6,2.85],[37.45,-5.25,2.25],[40.1,-5,2.5],[38.6,-6.8,2.6],[42.75,-7.45,2.7],[45.55,-6.9,2.95],[47.65,-7,2.95],[24.2,-8.25,2.4],[25.15,-8.3,2.6],[25.95,-9.1,2.45],[23.1,-9.85,2.95],[25.35,-10.25,2.6],[26.15,-10.1,3],[27.9,-10.8,3],[28,-10.55,2.5],[23.7,-10.65,2.85],[23.9,-11.1,2.95],[29.9,-10.55,2.7],[34.6,-10.8,2.35],[36.3,-10.15,2.9],[36.85,-10.3,2.45],[33.95,-11.65,2.35],[34.2,-11.55,2.75],[25.35,-11.85,2.85],[29.35,-12.05,2.75],[26.05,-12.6,2.7],[25.7,-12.85,2.7],[27.45,-12.55,2.5],[33.95,-12.75,2.75],[36.85,-12.7,2.6],[32.4,-13.85,2.9],[28.45,-14.3,2.45],[27.6,-14.4,3],[37.15,-15.35,2.9],[37.25,-15.85,3],[37.5,-17.45,2.7],[41.7,-17.05,3],[25.85,-15.7,2.75],[26.8,-16.05,2.85],[49.9,-12.75,3],[49.9,-19.8,2.65],[24.85,-19.3,3],[26.3,-20.3,2.9],
[-5.5,-8.45,2.9],[-4.85,-7,2.4],[-6.75,-8.65,2.15],[-9.3,-9.6,2.6],[-4.65,-9.6,2.5],[-3.3,-8.4,2.3],[-3.3,-8.9,3],[-3.7,-10.3,2.1],[-4.85,-10.85,2.4],[-5.3,-11.25,2.3],[-4.35,-12.15,2.9],[-4.5,-12.95,2.65],[-1.9,-10.05,2.85],[-1.45,-10.95,2.7],[-0.75,-11.75,2.55],[-0.8,-13,2.65],[-1.05,-16.55,2.95],[0.35,-16.1,2.85],[0.95,-10.8,2.3],[0.9,-11.3,3],[2.55,-12.1,2.65],[3.2,-10.05,2.85],[2.25,-8.05,2.7],[1.3,-7.05,2.7],[3.4,-7.8,2.55],[3.5,-8.85,2.95],[4.2,-8.9,2.2],[5.65,-9.6,2.95],[4.3,-10.65,2.95],[6.8,-10.65,2.85],[7.1,-10.3,2.35],[5.85,-11.2,2.25],[4.4,-11.65,2.45],[4.4,-12.05,2.4],[7.35,-12.5,2.9],[4.45,-14.05,2.85],[5.85,-14.3,2.95],[7.35,-14.3,2.9],[4.9,-15.5,3],[7.4,-15.15,2.2],[6.65,-15.3,2.6],[7.45,-7.8,2.95],[7.45,-8.2,2.6],[8.3,-8.95,2.8],[9,-7.8,2.8],[10.1,-8.05,2.65],[10.6,-7.5,2.2],[11.05,-8.05,2.1],[11.95,-9.65,2.95],[12.8,-8.8,2.7],[14.45,-8.2,2.6],[14.8,-8.45,2.65],[16,-8.15,2.8],[16.4,-7.9,2.95],[15.3,-9.45,3],[16.25,-9.4,2.5],[19.9,-7.65,2.8],[19.7,-8.9,2.8],[22.05,-7.45,2.35],[8.9,-10.75,2.75],[9.8,-10.55,2.4],[12.95,-11.2,2.6],[13.45,-11.2,2.95],[15.95,-10.95,2.6],[19.05,-10.25,2.55],[18.4,-10.8,2.6],[19.5,-11.45,2.75],[21.65,-11.35,2.3],[10.25,-12.1,2.65],[9.9,-11.85,2.95],[11.6,-12.1,2.8],[13.45,-12.5,2.95],[13.65,-12.05,3],[14.4,-12.7,3],[17.5,-12.75,2.95],[20.75,-12.45,2.95],[9.65,-12.95,2.9],[8.7,-13.5,2.5],[11.85,-13.45,2.85],[14.05,-13.45,2.75],[16.15,-13.3,2.85],[19.2,-13.9,2.95],[21.55,-14.3,2.8],[13.1,-14.25,3],[12.15,-14.95,2.5],[10.1,-15.65,2.95],[14.45,-16.25,2.75],[16.5,-15.95,2.55],[15.3,-17.15,2.95],[17.65,-17.1,2.95],[21.1,-16.7,2.8],[10.55,-16.8,2.75],[9.6,-17.3,2.7],[11.3,-17.65,2.65],[8.8,-18.45,2.9],[18.65,-19.65,3],[15.6,-20.25,2.85],[15.55,-21.35,2.95],[22.85,-22,2.95],[17.8,-26.4,3],
[3.8,-6.5,1.65],[5.8,-6.25,2.5],[2.65,-6.85,2.7],[7.5,-6.1,2.3],[7.5,-6.6,2.95],[6.05,-6.75,2.55],[10.8,-6,2.1],[11.75,-6.5,1.95],[13.6,-6.55,2.25],[15.15,-5.2,2.3],[16.15,-5.35,2.75],[16.5,-5.85,2.3],[16.7,-6.4,2.55],[16.3,-6.5,1.95],[15.45,-6.85,2.85],[11.8,-5.1,2.8],[19.45,-5.45,2.8],[20.2,-5.45,2.95],[-2.3,-5.85,2.7],
[25.6,34.6,1.7],[33.7,14.65,2],[26.7,19,2.1],[26.9,11.2,2.05],[27,9,2.15],[28,8.2,2.6],[23.5,5.05,1.65],[23,4.5,2.55],[27.45,5,2.35],[26.8,3.7,2.25],[29.1,1.8,2.4],[32.05,0.65,2.2],[30.3,0,2.15],[36.75,0.25,2.2],[46.3,2.6,2.8],[35.1,5.5,2.3],[36.2,5.15,2.3],[34.9,5,2.3],[34.6,1.9,2.35],[27.25,0.25,3],[28.35,0.15,3],[27.7,-0.3,2.75],[28,-2.45,2.35],[30,-1.55,2.35],[30.75,-4.9,2.7],[28.9,-4.1,2.6],[27.45,-5.25,2.5],[35.35,-2.6,2.9],[37.5,-1.95,2.85],[24,-1.55,2.75],[24.4,-2,2.8]
];

const SRC_COLOR = 'rgba(31,119,180,0.6)';
const TGT_COLOR = 'rgba(255,127,14,0.6)';
const ink = '#000';
const fontFamily = 'DejaVu Sans';
const tickFont = 62, titleFont = 73, lineW = 4.2, tickLen = 18;

const plotTop = 134, plotH = 1282, plotW = 1244;
const plotLefts = [307, 1851, 3396];
const barLeft = 4857, barW = 64;
const FRAME_W = 5237, FRAME_H = 1646;

// The window may be narrower than the reference frame: fit the frame to it.
const chartEl = document.getElementById('c');
chartEl.style.transform = 'scale(' + Math.min(1, innerWidth / FRAME_W) + ',' + Math.min(1, innerHeight / FRAME_H) + ')';

const fmt = v => String(v).replace('-', '\u2212');

function cartesianAxes(i) {
  const common = {
    gridIndex: i, type: 'value', min: -50, max: 50, splitLine: {show: false},
    axisLine: {show: true, onZero: false, lineStyle: {color: ink, width: lineW}},
    axisTick: {show: true, inside: false, length: tickLen, lineStyle: {color: ink, width: lineW}, customValues: axisTicks},
    axisLabel: {show: true, margin: 36, color: ink, fontFamily, fontSize: tickFont, formatter: fmt, customValues: axisTicks, hideOverlap: false},
    nameLocation: 'middle', nameTextStyle: {color: ink, fontFamily, fontSize: tickFont}, nameMoveOverlap: false, z: 5
  };
  return {
    x: Object.assign({}, common, {position: 'bottom', name: xName, nameGap: 132}),
    y: Object.assign({}, common, {position: 'left', name: yName, nameGap: 205})
  };
}

const grids = plotLefts.map(l => ({left: l, top: plotTop, width: plotW, height: plotH, show: false, containLabel: false}));
grids.push({left: barLeft, top: plotTop, width: barW, height: plotH, show: false});
const axes = plotLefts.map((_, i) => cartesianAxes(i));
const xAxes = axes.map(a => a.x);
const yAxes = axes.map(a => a.y);
// frame of each plot: mirror axes with no ticks
plotLefts.forEach((_, i) => {
  xAxes.push({gridIndex: i, type: 'value', min: -50, max: 50, position: 'top', axisLine: {show: true, onZero: false, lineStyle: {color: ink, width: lineW}}, axisTick: {show: false}, axisLabel: {show: false}, splitLine: {show: false}, z: 5});
  yAxes.push({gridIndex: i, type: 'value', min: -50, max: 50, position: 'right', axisLine: {show: true, onZero: false, lineStyle: {color: ink, width: lineW}}, axisTick: {show: false}, axisLabel: {show: false}, splitLine: {show: false}, z: 5});
});
// colorbar axes
const barX = xAxes.length, barY = yAxes.length;
xAxes.push({gridIndex: 3, type: 'value', min: 0, max: 1, position: 'bottom', axisLine: {show: true, onZero: false, lineStyle: {color: ink, width: lineW}}, axisTick: {show: false}, axisLabel: {show: false}, splitLine: {show: false}, z: 10});
xAxes.push({gridIndex: 3, type: 'value', min: 0, max: 1, position: 'top', axisLine: {show: true, onZero: false, lineStyle: {color: ink, width: lineW}}, axisTick: {show: false}, axisLabel: {show: false}, splitLine: {show: false}, z: 10});
yAxes.push({gridIndex: 3, type: 'value', min: 1, max: 3, position: 'right',
  axisLine: {show: true, onZero: false, lineStyle: {color: ink, width: lineW}},
  axisTick: {show: true, length: tickLen, lineStyle: {color: ink, width: lineW}, customValues: colorbarTicks},
  axisLabel: {show: true, margin: 36, color: ink, fontFamily, fontSize: tickFont, formatter: v => v.toFixed(2), customValues: colorbarTicks, hideOverlap: false},
  splitLine: {show: false}, z: 10,
  name: '{t|\u03b8}{e|E}', nameLocation: 'middle', nameRotate: 90, nameGap: 190, nameMoveOverlap: false,
  nameTextStyle: {rich: {t: {fontFamily, fontStyle: 'italic', fontSize: tickFont, color: ink}, e: {fontFamily, fontStyle: 'italic', fontSize: 44, color: ink, verticalAlign: 'bottom', padding: [16, 0, 0, 0]}}}
});
yAxes.push({gridIndex: 3, type: 'value', min: 1, max: 3, position: 'left', axisLine: {show: true, onZero: false, lineStyle: {color: ink, width: lineW}}, axisTick: {show: false}, axisLabel: {show: false}, splitLine: {show: false}, z: 10});

const xy = pts => pts.map(p => [p[0], p[1]]);

const option = {
  animation: false,
  backgroundColor: '#fff',
  title: panelTitles.map((t, i) => ({
    text: t, left: plotLefts[i] + plotW / 2, top: 42, textAlign: 'center', padding: 0,
    textStyle: {fontFamily, fontSize: titleFont, fontWeight: 'normal', color: ink}
  })),
  grid: grids,
  xAxis: xAxes,
  yAxis: yAxes,
  visualMap: {
    type: 'continuous', min: 1, max: 3, dimension: 2, seriesIndex: [2, 3],
    left: barLeft, top: plotTop, itemWidth: barW, itemHeight: plotH, padding: 0,
    calculable: false, realtime: false, hoverLink: false, text: null, showLabel: false,
    inRange: {color: viridis}, textStyle: {fontSize: 1, color: 'transparent'}
  },
  series: [
    {type: 'scatter', xAxisIndex: 0, yAxisIndex: 0, data: xy(sourcePoints), symbol: 'circle', symbolSize: 9,
     itemStyle: {color: SRC_COLOR, borderColor: SRC_COLOR, borderWidth: 4, opacity: 1}},
    {type: 'scatter', xAxisIndex: 0, yAxisIndex: 0, data: xy(targetPoints), symbol: 'triangle', symbolSize: 11,
     itemStyle: {color: TGT_COLOR, borderColor: TGT_COLOR, borderWidth: 3.5, opacity: 1}},
    {type: 'scatter', xAxisIndex: 1, yAxisIndex: 1, data: sourcePoints, symbol: 'circle', symbolSize: 14.5, itemStyle: {opacity: 1}},
    {type: 'scatter', xAxisIndex: 2, yAxisIndex: 2, data: targetPoints, symbol: 'circle', symbolSize: 14.5, itemStyle: {opacity: 1}},
    {type: 'scatter', xAxisIndex: barX, yAxisIndex: barY, data: [], silent: true}
  ]
};

echarts.init(chartEl, null, {renderer: 'canvas', width: FRAME_W, height: FRAME_H}).setOption(option);
</script>
</body>
</html>
